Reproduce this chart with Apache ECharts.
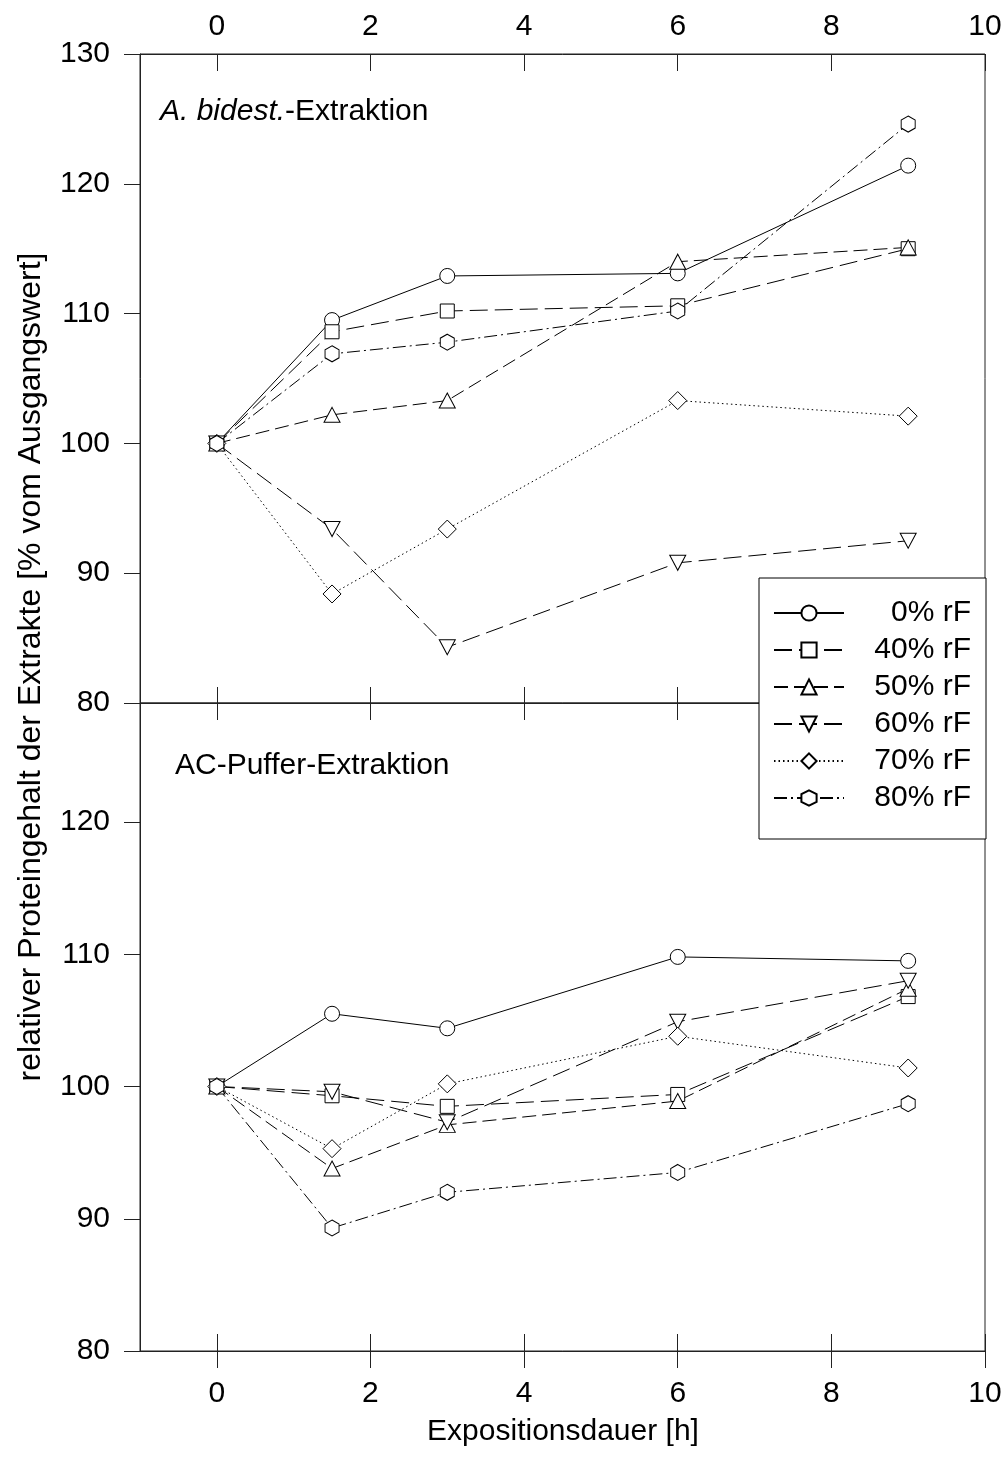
<!DOCTYPE html>
<html><head><meta charset="utf-8">
<script src="https://cdn.jsdelivr.net/npm/echarts@6/dist/echarts.min.js"></script>
<style>html,body{margin:0;padding:0;background:#fff}#c{width:1008px;height:1476px}</style>
</head><body><div id="c"></div>
<script>
// ---- data ----
const times = [0, 1.5, 3, 6, 9];
const seriesNames = ['0% rF', '40% rF', '50% rF', '60% rF', '70% rF', '80% rF'];
// A. bidest.-Extraktion (top panel)
const water0  = [100, 109.5, 112.9, 113.1, 121.4];
const water40 = [100, 108.6, 110.2, 110.6, 115.0];
const water50 = [100, 102.2, 103.3, 114.0, 115.1];
const water60 = [100, 93.4, 84.3, 90.8, 92.5];
const water70 = [100, 88.4, 93.4, 103.3, 102.1];
const water80 = [100, 106.9, 107.8, 110.2, 124.6];
// AC-Puffer-Extraktion (bottom panel)
const buffer0  = [100, 105.5, 104.4, 109.8, 109.5];
const buffer40 = [100, 99.3, 98.5, 99.4, 106.8];
const buffer50 = [100, 93.8, 97.1, 98.9, 107.4];
const buffer60 = [100, 99.6, 97.3, 104.9, 108.0];
const buffer70 = [100, 95.3, 100.2, 103.8, 101.4];
const buffer80 = [100, 89.3, 92.0, 93.5, 98.7];
const xTicks = [0, 2, 4, 6, 8, 10];
const yTicksTop = [80, 90, 100, 110, 120, 130];
const yTicksBottom = [80, 90, 100, 110, 120];

// ---- styles ----
const FONT = 'Liberation Sans, Arial, sans-serif';
const FS = 30;
const AX = '#222';
const hexPath = 'path://M0,-1 L0.866,-0.5 L0.866,0.5 L0,1 L-0.866,0.5 L-0.866,-0.5 Z';
const styles = [
  {symbol: 'circle', size: 15, rotate: 0, dash: 'solid'},
  {symbol: 'rect', size: 14, rotate: 0, dash: [18, 7]},
  {symbol: 'triangle', size: [16, 15], rotate: 0, dash: [14, 6]},
  {symbol: 'triangle', size: [16, 15], rotate: 180, dash: [18, 7]},
  {symbol: 'diamond', size: 18, rotate: 0, dash: [1.5, 3]},
  {symbol: hexPath, size: [14, 16], rotate: 0, dash: [13, 4, 2, 4]}
];
const topSets = [water0, water40, water50, water60, water70, water80];
const botSets = [buffer0, buffer40, buffer50, buffer60, buffer70, buffer80];

function mk(name, vals, st, xi, yi) {
  return {
    name: name, type: 'line', xAxisIndex: xi, yAxisIndex: yi,
    data: times.map((t, i) => [t, vals[i]]),
    symbol: st.symbol, symbolSize: st.size, symbolRotate: st.rotate,
    showAllSymbol: true, animation: false,
    lineStyle: {color: '#000', width: 1, type: st.dash},
    itemStyle: {color: '#fff', borderColor: '#000', borderWidth: 1}
  };
}
const series = [];
seriesNames.forEach((n, i) => series.push(mk(n, topSets[i], styles[i], 0, 0)));
seriesNames.forEach((n, i) => series.push(mk(n, botSets[i], styles[i], 3, 1)));

function xAx(grid, pos, inside, len, labels, margin) {
  return {
    type: 'value', gridIndex: grid, position: pos, min: -1, max: 10,
    axisLine: {show: true, onZero: false, lineStyle: {color: AX, width: 1}},
    axisTick: {show: true, inside: inside, length: len, customValues: xTicks, lineStyle: {color: AX, width: 1}},
    axisLabel: {show: labels, margin: margin, customValues: xTicks, color: '#000', fontFamily: FONT, fontSize: FS},
    splitLine: {show: false}
  };
}
function yAx(grid, max, ticks) {
  return {
    type: 'value', gridIndex: grid, position: 'left', min: 80, max: max,
    axisLine: {show: true, onZero: false, lineStyle: {color: AX, width: 1}},
    axisTick: {show: true, inside: false, length: 16, customValues: ticks, lineStyle: {color: AX, width: 1}},
    axisLabel: {show: true, margin: 30, customValues: ticks, color: '#000', fontFamily: FONT, fontSize: FS},
    splitLine: {show: false}
  };
}

const chart = echarts.init(document.getElementById('c'));
chart.setOption({
  animation: false,
  backgroundColor: '#fff',
  grid: [
    {left: 140, right: 23, top: 54, height: 649, show: true, borderColor: AX, borderWidth: 1},
    {left: 140, right: 23, top: 703, height: 648, show: true, borderColor: AX, borderWidth: 1}
  ],
  xAxis: [
    xAx(0, 'top', true, 17, true, 12),
    xAx(0, 'bottom', true, 16, false, 8),
    xAx(1, 'top', true, 17, false, 8),
    xAx(1, 'bottom', true, 17, true, 28),
    xAx(1, 'bottom', false, 17, false, 8)
  ],
  yAxis: [yAx(0, 130, yTicksTop), yAx(1, 129, yTicksBottom)],
  legend: {
    data: seriesNames, orient: 'vertical', left: 759, top: 578,
    padding: [20, 15, 26, 14], itemGap: 7, itemWidth: 70, itemHeight: 19,
    backgroundColor: '#fff', borderColor: '#000', borderWidth: 1, borderRadius: 0,
    selectedMode: false,
    formatter: n => '{t|' + n + '}',
    textStyle: {color: '#000', fontFamily: FONT, fontSize: FS,
      rich: {t: {width: 122, align: 'right', fontFamily: FONT, fontSize: FS, lineHeight: 30, color: '#000'}}}
  },
  graphic: [
    {type: 'text', left: 160, top: 97, style: {text: '{i|A. bidest.}-Extraktion', fill: '#000', font: FS + 'px ' + FONT,
      rich: {i: {fontStyle: 'italic', fontSize: FS, fontFamily: FONT}}}},
    {type: 'text', left: 175, top: 751, style: {text: 'AC-Puffer-Extraktion', fill: '#000', font: FS + 'px ' + FONT}},
    {type: 'text', x: 31, y: 667, rotation: Math.PI / 2,
      style: {text: 'relativer Proteingehalt der Extrakte [% vom Ausgangswert]', fill: '#000', font: '32px ' + FONT,
        align: 'center', verticalAlign: 'middle'}},
    {type: 'text', x: 563, y: 1432,
      style: {text: 'Expositionsdauer [h]', fill: '#000', font: FS + 'px ' + FONT, align: 'center', verticalAlign: 'middle'}}
  ],
  series: series
});
</script></body></html>
